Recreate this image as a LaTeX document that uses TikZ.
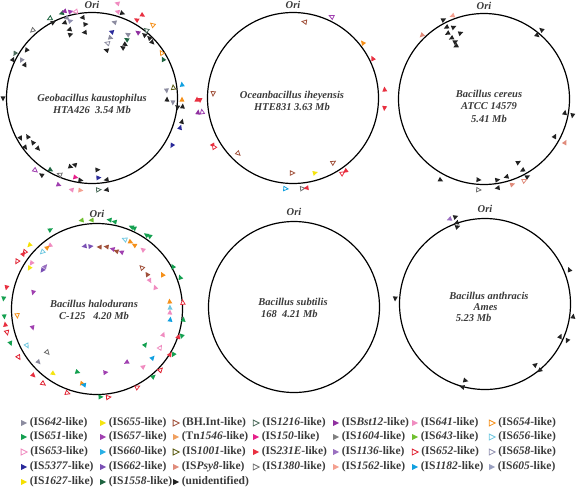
\documentclass[tikz,border=0pt]{standalone}
\usepackage{fontspec}
\setmainfont{Liberation Serif}
\usepackage{tikz}
\usetikzlibrary{positioning, shapes.geometric}

\definecolor{c642}{HTML}{8C8CA0}
\definecolor{c651}{HTML}{14A050}
\definecolor{c653}{HTML}{F08CC0}
\definecolor{c5377}{HTML}{2A2A9A}
\definecolor{c1627}{HTML}{F5E000}
\definecolor{c655}{HTML}{F5E410}
\definecolor{c657}{HTML}{A040B0}
\definecolor{c660}{HTML}{28B0E6}
\definecolor{c662}{HTML}{7A50B4}
\definecolor{c1558}{HTML}{1E6440}
\definecolor{cbh}{HTML}{A0503A}
\definecolor{c1546}{HTML}{F0A060}
\definecolor{c1001}{HTML}{5A5A10}
\definecolor{cpsy}{HTML}{E08C7C}
\definecolor{cun}{HTML}{222222}
\definecolor{c1216}{HTML}{4A6A5A}
\definecolor{c150}{HTML}{E6208A}
\definecolor{c231}{HTML}{E83040}
\definecolor{c1380}{HTML}{707070}
\definecolor{cbst}{HTML}{9030A0}
\definecolor{c1604}{HTML}{808080}
\definecolor{c1136}{HTML}{9A70C0}
\definecolor{c1562}{HTML}{F4A090}
\definecolor{c641}{HTML}{F08CC0}
\definecolor{c643}{HTML}{70C030}
\definecolor{c652}{HTML}{E02030}
\definecolor{c1182}{HTML}{10A0E0}
\definecolor{c654}{HTML}{F5901A}
\definecolor{c656}{HTML}{70C8E0}
\definecolor{c658}{HTML}{9090B0}
\definecolor{c605}{HTML}{9AA0C0}
\definecolor{labelgray}{HTML}{3A3A3A}

\begin{document}
\begin{tikzpicture}[x=1pt, y=1pt,
    genome/.style={circle, draw=black, line width=1.2pt, minimum size=171pt, inner sep=0pt},
    species/.style={text=labelgray, font=\fontsize{10.5}{12.5}\selectfont\bfseries\itshape, align=center, inner sep=0pt},
    ori/.style={text=labelgray, font=\fontsize{10.5}{12}\selectfont\bfseries\itshape},
    isf/.style={isosceles triangle, isosceles triangle stretches, inner sep=0pt,
        minimum width=5pt, minimum height=5pt, fill=#1},
    iso/.style={isosceles triangle, isosceles triangle stretches, inner sep=0pt,
        minimum width=4.4pt, minimum height=4.4pt, draw=#1, fill=white, line width=0.8pt},
    lgmark/.style={minimum width=6pt, minimum height=6pt},
    lgtext/.style={text=labelgray, font=\fontsize{11.5}{13}\selectfont\bfseries, inner sep=0pt}]

\useasboundingbox (0,0) rectangle (577,-488);

% genomes
\node[genome, label={[ori, label distance=0pt]90:Ori}] (geo) at (92,-98) {};
\node[genome, label={[ori, label distance=0pt]90:Ori}] (ocean) at (293,-98) {};
\node[genome, label={[ori, label distance=0pt]90:Ori}] (cereus) at (484,-99) {};
\node[genome, label={[ori, label distance=2pt]90:Ori}] (halo) at (97,-309) {};
\node[genome, label={[ori, label distance=2pt]90:Ori}] (subt) at (294,-307) {};
\node[genome, label={[ori, label distance=2pt]90:Ori}] (anth) at (485,-304) {};

\node[species] (geo-name) at (92,-104) {Geobacillus kaustophilus\\HTA426\ \ 3.54 Mb};
\node[species] (ocean-name) at (292,-101) {Oceanbacillus iheyensis\\HTE831 3.63 Mb};
\node[species] (cereus-name) at (489,-106) {Bacillus cereus\\ATCC 14579\\5.41 Mb};
\node[species] (halo-name) at (94,-310) {Bacillus halodurans\\C-125\ \ \ 4.20 Mb};
\node[species, align=left] (subt-name) at (293,-308) {Bacillus subtilis\\\ 168\ \ 4.21 Mb};
\node[species, align=left, font=\fontsize{10.5}{10.8}\selectfont\bfseries\itshape] (anth-name) at (489,-307)
    {Bacillus anthracis\\\hspace*{2.3em}Ames\\\hspace*{0.6em}5.23 Mb};

% IS elements, Geobacillus
\foreach \a/\r/\c/\k/\d [count=\i] in {
    74.7/98/c641/isf/90, 73.2/90/c641/isf/90, 70.6/90/cun/isf/-90, 60/90/c231/isf/90,
    58.9/97/c231/isf/-90, 50.1/95/c654/iso/90, 51/87/c1216/iso/90, 54.7/80/cbst/isf/90,
    50/82/cun/isf/90, 46/83/cun/isf/90, 43/82/cun/isf/-90, 73.2/79/c642/isf/90,
    73.1/69/c5377/isf/90, 73.3/63/c642/isf/-90, 73.8/57/c642/iso/90, 72.6/50/cun/isf/90,
    60.3/73/c642/isf/90, 58.9/68/c1558/isf/90, 58.6/63/cun/isf/-90, 58.2/59/cun/isf/90,
    109.4/90/c1558/isf/90, 107.4/91/cbst/isf/90, 104.3/89/c657/isf/-90, 100.5/88/c653/iso/90,
    107.4/84/c642/isf/90, 106/80/c658/isf/-90, 109.8/80/cun/isf/90, 96.4/81/cun/isf/90,
    95.4/74/cun/isf/-90, 107.9/72/cun/isf/90, 109.2/67/cun/isf/-90, 96/66/cun/isf/90,
    117.7/90/c1558/iso/90, 117.5/85/cun/isf/-90, 131/90/c1380/iso/90, 143.6/81/cun/isf/90,
    149.7/89/c1216/isf/90, 154.3/88/cun/isf/-90, 151.5/80/c642/isf/90, 153.8/75/cun/isf/-90,
    180/89/cun/isf/90, 209/82/cun/isf/90, 211.4/75/cun/isf/-90, 216.2/83/cun/isf/90,
    217.3/74/cun/isf/-90, 222.8/74/cun/isf/90, 231.6/92/c657/iso/90, 239.7/83/c1558/isf/90,
    237/92/cun/isf/-90, 248.7/93/c657/isf/90, 247.4/83/c1380/iso/-90, 252.3/72/cun/isf/90,
    255.8/69/cun/isf/-90, 257.9/81/c150/isf/90, 262.6/93/c1562/isf/90, 257.7/94/c641/isf/-90,
    261.7/83/cun/isf/90, 274/72/cun/isf/90, 274.3/80/c5377/isf/90, 280.4/83/cun/isf/-90,
    273.7/92/c1216/iso/90, 279.3/93/cun/isf/-90, 32.7/83/c654/iso/90, 28.2/81/c1558/isf/90,
    8.2/91/c1182/isf/90, 6.1/75/c642/isf/-90, 7/82/c1001/iso/90, 358.5/75/cun/isf/90,
    357.2/81/c642/isf/-90, 358.7/90/c654/isf/90, 358.9/105/c231/isf/90, 354/86/cun/isf/-90,
    354.4/91/cun/isf/90, 352/107/cbst/isf/90, 345/93/cun/isf/90, 341.2/93/c5377/isf/90,
    329.6/93/c5377/isf/-90}
    \node[\k=\c, rotate={\a+(\d)}] (geo-\i) at ([shift={(\a:\r)}]geo.center) {};

% IS elements, Oceanbacillus
\foreach \a/\r/\c/\k/\d [count=\i] in {
    81/77/cbh/iso/90, 64.3/90/c657/iso/90, 38/89/c654/isf/90, 26/89/c231/isf/90,
    5/92/c231/isf/90, 354/92/c231/isf/-90, 176.4/80/cbh/iso/90, 181/93/c231/isf/90,
    189/92/c657/iso/-90, 210.4/93/c231/isf/90, 212/93/c231/iso/-90, 225/78/cbh/iso/90,
    269/75/cbh/iso/90, 286/78/c655/isf/90, 301.6/76/cbh/iso/90, 303/90/c231/iso/90,
    306/90/c231/isf/-90, 265/91/c1182/iso/90, 275.6/91/c1380/iso/90, 278.8/91/c231/isf/-90}
    \node[\k=\c, rotate={\a+(\d)}] (ocean-\i) at ([shift={(\a:\r)}]ocean.center) {};

% IS elements, B. cereus
\foreach \a/\r/\c/\k/\d [count=\i] in {
    110.5/89/c1562/isf/90, 117.4/89/cun/isf/-90, 134/89/cpsy/isf/90, 117.2/81/cun/isf/90,
    113.3/78/cun/isf/-90, 118.6/75/cun/isf/90, 110/70/cun/isf/-90, 117.7/69/cun/isf/90,
    117/64/cun/isf/-90, 117.4/60/cun/isf/90, 50/90/cun/isf/90, 50.4/83/cun/isf/-90,
    350/82/cun/isf/90, 349.8/90/cun/isf/-90, 331.8/80/cun/isf/90, 331.5/92/cpsy/isf/90,
    298/72/cun/isf/90, 298.8/81/cun/isf/-90, 298.9/89/cun/isf/90, 296/91/cpsy/iso/90,
    286.4/81/cun/isf/-90, 288/90/cpsy/isf/90, 279/82/cun/isf/90, 279/90/cun/isf/-90,
    265.8/81/cun/isf/90, 266.2/91/c1380/iso/90, 241.5/92/cun/isf/90}
    \node[\k=\c, rotate={\a+(\d)}] (cereus-\i) at ([shift={(\a:\r)}]cereus.center) {};

% IS elements, B. halodurans
\foreach \a/\r/\c/\k/\d [count=\i] in {
    99.6/90/c643/isf/90, 93.2/89/c643/isf/90, 81.7/90/c651/isf/90, 78.3/89/c651/isf/90,
    66.9/89/c651/isf/90, 65.1/89/c651/isf/90, 56/89/c651/isf/90, 54/90/c651/isf/90,
    120.8/92/c651/isf/-90, 136.3/93/c1627/isf/90, 141.6/92/c652/iso/90, 143.5/92/c231/isf/-90,
    149/93/c652/iso/90, 126.3/79/c641/isf/90, 133.5/79/c656/iso/90, 129.3/79/c654/isf/-90,
    144.7/80/c641/isf/90, 148.5/79/c655/isf/90, 144.2/67/c662/isf/90, 141/67/c1136/isf/-90,
    165/66/c657/isf/90, 166.3/93/c231/isf/90, 173.3/94/c651/isf/90, 184.3/80/c654/iso/90,
    184.3/93/c651/isf/90, 189.9/93/c231/isf/-90, 194.3/93/c652/iso/90, 195.7/67/c657/isf/90,
    201.3/93/c651/isf/90, 207.2/79/c656/iso/90, 211.3/92/c652/iso/90, 220.7/66/c1380/iso/90,
    221.9/79/c642/isf/90, 225.9/92/c231/isf/90, 235.5/78/c655/isf/90, 233.9/92/c652/iso/90,
    252.4/66/c651/isf/90, 258.5/76/c654/isf/90, 260.5/77/c1182/isf/-90, 272/88/c651/isf/90,
    277/89/c652/iso/90, 250.3/89/c652/iso/90, 297/88/c231/iso/90, 277.2/64/c657/isf/90,
    299.5/61/c657/isf/-90, 308.4/74/c641/isf/90, 318.3/74/c1182/isf/90, 323/60/c651/isf/90,
    328.2/74/c653/iso/90, 315.9/88/c652/iso/90, 309.5/88/c651/isf/90, 327.8/86/c231/isf/90,
    329.5/89/c651/isf/-90, 338.5/71/c641/isf/90, 340.9/86/c231/isf/90, 342.5/89/c651/isf/-90,
    352.7/87/c651/isf/90, 5.5/73/c654/isf/90, 0.8/73/c656/isf/90, 356.9/73/c641/isf/90,
    351.4/74/c1182/isf/90, 4/86/c231/iso/90, 20.5/89/c651/isf/90, 28.9/87/c651/isf/90,
    27.3/74/c654/isf/90, 19.9/62/c641/isf/90, 28.7/60/c641/isf/-90, 34.2/61/cbh/isf/90,
    42.3/61/cbh/iso/90, 52/75/c641/isf/90, 59.3/74/c654/isf/90, 63.8/75/c654/isf/-90,
    67.9/75/c656/iso/90, 100.8/64/c662/isf/90, 96.3/63/c662/isf/-90, 87.2/62/cbh/isf/90,
    80.8/63/cbh/isf/90, 75/62/c657/isf/90, 71/61/cbh/isf/90, 66.3/62/c657/isf/90}
    \node[\k=\c, rotate={\a+(\d)}] (halo-\i) at ([shift={(\a:\r)}]halo.center) {};

% IS elements, B. anthracis
\foreach \a/\r/\c/\k/\d [count=\i] in {
    112.4/92/c1136/isf/90, 109/92/cun/isf/-90, 109/86/cun/isf/90, 110/82/cun/isf/-90,
    21.8/91/cun/isf/90, 351.6/89/cun/isf/90, 336.3/82/cun/isf/90, 336.3/90/cun/isf/-90,
    309.3/79/cun/isf/90, 309.8/86/cun/isf/-90, 255.3/79/cun/isf/90, 255/86/cun/isf/-90,
    176.2/90/cun/isf/90}
    \node[\k=\c, rotate={\a+(\d)}] (anth-\i) at ([shift={(\a:\r)}]anth.center) {};

% legend
\foreach \x/\y/\c/\k/\t [count=\i] in {
    23/423/c642/isf/{(IS\textit{642}-like)}, 23/437/c651/isf/{(IS\textit{651}-like)},
    23/452/c653/iso/{(IS\textit{653}-like)}, 23/467/c5377/isf/{(IS\textit{5377}-like)},
    23/482/c1627/isf/{(IS\textit{1627}-like)},
    102/423/c655/isf/{(IS\textit{655}-like)}, 102/437/c657/isf/{(IS\textit{657}-like)},
    102/452/c660/isf/{(IS\textit{660}-like)}, 102/467/c662/isf/{(IS\textit{662}-like)},
    102/482/c1558/isf/{(IS\textit{1558}-like)},
    175/423/cbh/iso/{(BH.Int-like)}, 175/437/c1546/isf/{(Tn\textit{1546}-like)},
    175/452/c1001/iso/{(IS\textit{1001}-like)}, 175/467/cpsy/isf/{(IS\textit{Psy8}-like)},
    175/482/cun/isf/{(unidentified)},
    255/423/c1216/iso/{(IS\textit{1216}-like)}, 255/437/c150/isf/{(IS\textit{150}-like)},
    255/452/c231/isf/{(IS\textit{231E}-like)}, 255/467/c1380/iso/{(IS\textit{1380}-like)},
    335/423/cbst/isf/{(IS\textit{Bst12}-like)}, 335/437/c1604/isf/{(IS\textit{1604}-like)},
    335/452/c1136/isf/{(IS\textit{1136}-like)}, 335/467/c1562/isf/{(IS\textit{1562}-like)},
    414/423/c641/isf/{(IS\textit{641}-like)}, 414/437/c643/isf/{(IS\textit{643}-like)},
    414/452/c652/iso/{(IS\textit{652}-like)}, 414/467/c1182/isf/{(IS\textit{1182}-like)},
    491/423/c654/iso/{(IS\textit{654}-like)}, 491/437/c656/iso/{(IS\textit{656}-like)},
    491/452/c658/iso/{(IS\textit{658}-like)}, 491/467/c605/isf/{(IS\textit{605}-like)}}
{
    \node[\k=\c, lgmark] (key-\i) at (\x,-\y) {};
    \node[lgtext, right=2pt of key-\i] (keytext-\i) {\t};
}
\end{tikzpicture}
\end{document}
